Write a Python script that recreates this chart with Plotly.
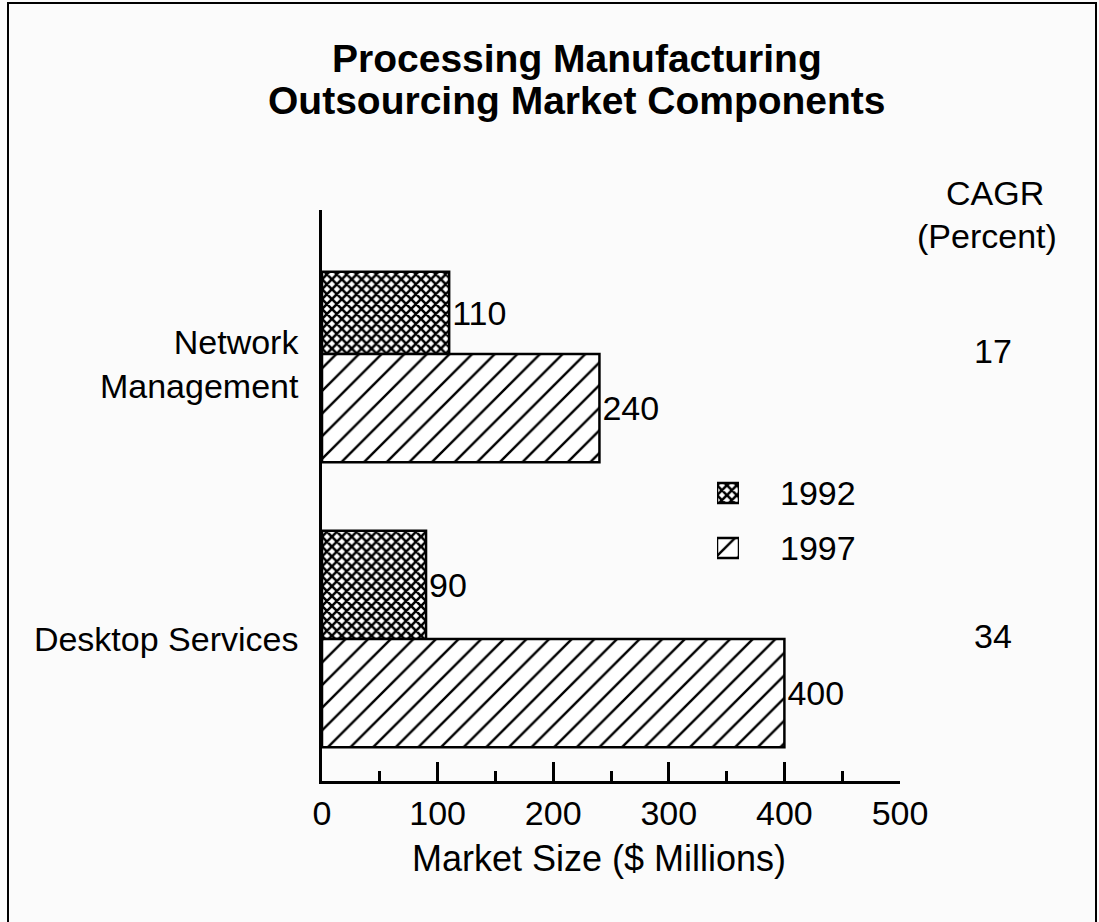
import plotly.graph_objects as go

categories = ["Desktop Services", "Network<br>Management"]
cat_pos = [0, 1]
series_names = ["1992", "1997"]
values_1992 = [90, 110]
values_1997 = [400, 240]
cagr_values = ["34", "17"]
x_ticks = [0, 100, 200, 300, 400, 500]

FONT = "Liberation Sans, Arial, Helvetica, sans-serif"
FS = 34

pat_1992 = dict(shape="x", size=7, solidity=0.6, fgcolor="black", bgcolor="white", fgopacity=1)
pat_1997 = dict(shape="/", size=16, solidity=0.15, fgcolor="black", bgcolor="white", fgopacity=1)
outline = dict(color="black", width=2.5)

fig = go.Figure()
fig.add_trace(go.Bar(
    name=series_names[0], y=cat_pos, x=values_1992, orientation="h",
    width=[0.38, 0.288], offset=0,
    marker=dict(color="white", line=outline, pattern=pat_1992),
    text=[str(v) for v in values_1992], textposition="outside",
    textfont=dict(size=FS, color="black", family=FONT), cliponaxis=False,
    showlegend=False,
))
fig.add_trace(go.Bar(
    name=series_names[1], y=cat_pos, x=values_1997, orientation="h",
    width=0.38, offset=-0.38,
    marker=dict(color="white", line=outline, pattern=pat_1997),
    text=[str(v) for v in values_1997], textposition="outside",
    textfont=dict(size=FS, color="black", family=FONT), cliponaxis=False,
    showlegend=False,
))

# legend swatches on a hidden axis pair
fig.add_trace(go.Bar(
    y=[1], x=[1], orientation="h", width=0.36, xaxis="x2", yaxis="y2",
    marker=dict(color="white", line=outline, pattern=pat_1992), showlegend=False, hoverinfo="skip",
))
fig.add_trace(go.Bar(
    y=[0], x=[1], orientation="h", width=0.36, xaxis="x2", yaxis="y2",
    marker=dict(color="white", line=outline, pattern=pat_1997), showlegend=False, hoverinfo="skip",
))

W, H = 1099, 922
L, R, T, B = 322, 199, 210, 141
pw, ph = W - L - R, H - T - B


def px(x):
    return (x - L) / pw


def py(y):
    return (H - B - y) / ph


def ann(text, x, y, size=FS, yref="paper", xanchor="center", yval=None):
    return dict(text=text, x=px(x), y=(py(y) if yval is None else yval), xref="paper", yref=yref,
                xanchor=xanchor, yanchor="middle", showarrow=False,
                font=dict(size=size, family=FONT, color="black"))


annotations = [
    ann("<b>Processing Manufacturing</b>", 577, 58, size=39),
    ann("<b>Outsourcing Market Components</b>", 577, 100, size=39),
    ann("CAGR", 995, 193),
    ann("(Percent)", 987, 236),
    ann("Market Size ($ Millions)", 599, 858, size=36),
]
for pos, v in zip(cat_pos, cagr_values):
    annotations.append(ann(v, 993, 0, yref="y", yval=pos + 0.01))
for pos, name in zip([1, 0], series_names):
    annotations.append(ann(name, 778, 0, yref="y2", yval=pos, xanchor="left"))

fig.update_layout(
    width=W, height=H,
    margin=dict(l=L, r=R, t=T, b=B),
    paper_bgcolor="#fbfbfb", plot_bgcolor="rgba(0,0,0,0)",
    barmode="overlay",
    font=dict(family=FONT, size=FS, color="black"),
    showlegend=False,
    xaxis=dict(range=[0, 500], tickvals=x_ticks, ticks="inside", ticklen=19, tickwidth=2.5,
               tickcolor="black", showline=True, linecolor="black", linewidth=2.5,
               showgrid=False, zeroline=False, fixedrange=True,
               minor=dict(dtick=50, ticks="inside", ticklen=10, tickwidth=2.5, tickcolor="black",
                          showgrid=False),
               tickfont=dict(size=FS)),
    yaxis=dict(range=[-0.498, 1.505], tickvals=[0, 0.965], ticktext=categories,
               showline=True, linecolor="black", linewidth=2.5, ticks="",
               showgrid=False, zeroline=False, ticklabelstandoff=14, fixedrange=True,
               tickfont=dict(size=FS)),
    xaxis2=dict(domain=[px(717), px(739)], range=[0, 1], visible=False, fixedrange=True),
    yaxis2=dict(domain=[py(575.5), py(465.5)], range=[-0.5, 1.5], visible=False, fixedrange=True,
                anchor="x2"),
    annotations=annotations,
    shapes=[dict(type="rect", xref="paper", yref="paper",
                 x0=px(8), x1=px(1096), y0=py(940), y1=py(3),
                 line=dict(color="black", width=2))],
)

fig.write_html("out.html", config={"displayModeBar": False},
               post_script="document.body.style.margin='0';document.body.style.overflow='hidden';")
